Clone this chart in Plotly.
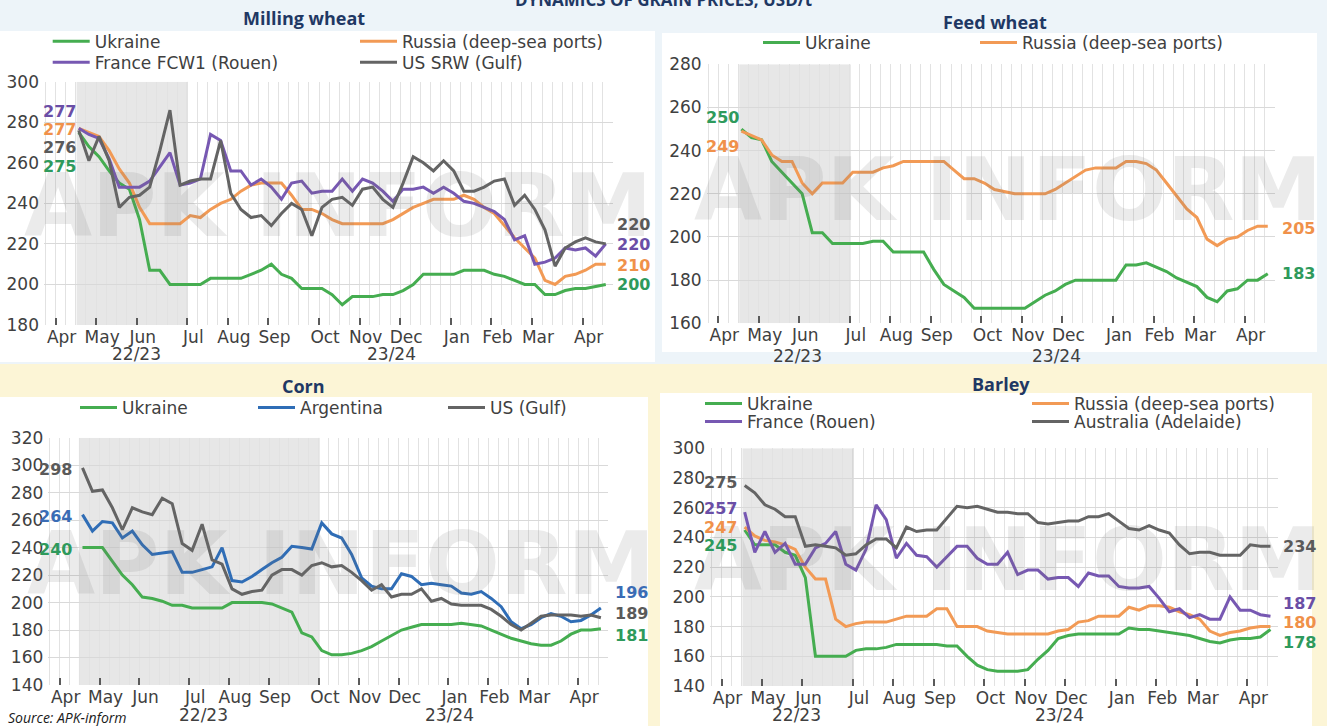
import pandas as pd
import plotly.graph_objects as go

W, H = 1327, 726

# weekly quotes (Fridays), 21 Apr 2023 .. 19 Apr 2024
weeks = pd.date_range("2023-04-21", periods=53, freq="7D")

month_ticks = ["2023-04-05", "2023-05-03", "2023-05-31", "2023-07-05", "2023-08-02",
               "2023-08-30", "2023-10-04", "2023-11-01", "2023-11-29", "2024-01-03",
               "2024-01-31", "2024-02-28", "2024-04-03"]
month_labels = ["Apr", "May", "Jun", "Jul", "Aug", "Sep", "Oct", "Nov", "Dec",
                "Jan", "Feb", "Mar", "Apr"]
seasons = ["22/23", "23/24"]

# --- Milling wheat, USD/t ---
milling_ukraine = [275, 268, 263, 256, 250, 247, 232, 207, 207, 200, 200, 200, 200, 203, 203,
                   203, 203, 205, 207, 210, 205, 203, 198, 198, 198, 195, 190, 194, 194, 194,
                   195, 195, 197, 200, 205, 205, 205, 205, 207, 207, 207, 205, 204, 202, 200,
                   200, 195, 195, 197, 198, 198, 199, 200]
milling_russia = [277, 275, 273, 266, 257, 250, 238, 230, 230, 230, 230, 234, 233, 237, 240,
                  242, 246, 249, 250, 250, 250, 244, 237, 237, 235, 232, 230, 230, 230, 230,
                  230, 232, 235, 238, 240, 242, 242, 242, 244, 242, 238, 235, 229, 223, 218,
                  213, 202, 200, 204, 205, 207, 210, 210]
milling_france = [277, 274, 272, 262, 248, 248, 248, 251, 258, 265, 249, 250, 252, 274, 271,
                  256, 256, 249, 252, 248, 242, 250, 251, 245, 246, 246, 252, 246, 252, 250,
                  246, 241, 247, 247, 248, 245, 248, 245, 241, 240, 238, 236, 232, 222, 224,
                  210, 211, 213, 218, 217, 218, 214, 220]
milling_us = [276, 261, 273, 261, 238, 243, 244, 248, 266, 286, 249, 251, 252, 252, 271,
              245, 237, 233, 234, 229, 235, 240, 237, 224, 238, 242, 243, 239, 247, 248,
              242, 238, 250, 263, 260, 256, 261, 256, 246, 246, 248, 251, 252, 239, 244,
              237, 227, 209, 218, 221, 223, 221, 220]

# --- Feed wheat ---
feed_ukraine = [250, 246, 245, 235, 230, 225, 220, 202, 202, 197, 197, 197, 197, 198, 198,
                193, 193, 193, 193, 185, 178, 175, 172, 167, 167, 167, 167, 167, 167, 170,
                173, 175, 178, 180, 180, 180, 180, 180, 187, 187, 188, 186, 184, 181, 179,
                177, 172, 170, 175, 176, 180, 180, 183]
feed_russia = [249, 247, 245, 238, 235, 235, 225, 220, 225, 225, 225, 230, 230, 230, 232,
               233, 235, 235, 235, 235, 235, 231, 227, 227, 225, 222, 221, 220, 220, 220,
               220, 222, 225, 228, 231, 232, 232, 232, 235, 235, 234, 231, 225, 219, 213,
               209, 199, 196, 199, 200, 203, 205, 205]

# --- Corn ---
corn_ukraine = [240, 240, 240, 230, 220, 213, 204, 203, 201, 198, 198, 196, 196, 196, 196,
                200, 200, 200, 200, 199, 196, 193, 178, 175, 165, 162, 162, 163, 165, 168,
                172, 176, 180, 182, 184, 184, 184, 184, 185, 184, 183, 180, 177, 174, 172,
                170, 169, 169, 172, 177, 180, 180, 181]
corn_argentina = [264, 252, 259, 258, 247, 252, 242, 235, 236, 237, 222, 222, 224, 226, 240,
                  216, 215, 219, 224, 229, 233, 241, 240, 239, 258, 250, 247, 235, 218, 212,
                  210, 210, 221, 219, 213, 214, 213, 212, 207, 206, 208, 203, 197, 186, 181,
                  184, 189, 192, 190, 186, 187, 191, 196]
corn_us = [298, 281, 282, 269, 253, 269, 266, 264, 276, 272, 243, 238, 257, 231, 228,
           210, 206, 208, 209, 220, 224, 224, 220, 227, 229, 226, 227, 222, 216, 209,
           213, 204, 206, 206, 210, 201, 203, 199, 198, 198, 198, 195, 190, 184, 180,
           185, 190, 191, 191, 191, 190, 191, 189]

# --- Barley ---
barley_ukraine = [245, 235, 235, 235, 230, 228, 213, 160, 160, 160, 160, 164, 165, 165, 166,
                  168, 168, 168, 168, 168, 167, 167, 160, 154, 151, 150, 150, 150, 151, 158,
                  164, 172, 174, 175, 175, 175, 175, 175, 179, 178, 178, 177, 176, 175, 174,
                  172, 170, 169, 171, 172, 172, 173, 178]
barley_russia = [247, 241, 238, 237, 235, 232, 220, 212, 212, 185, 180, 182, 183, 183, 183,
                 185, 187, 187, 187, 192, 192, 180, 180, 180, 177, 176, 175, 175, 175, 175,
                 175, 177, 178, 183, 184, 187, 187, 187, 193, 191, 194, 194, 193, 190, 188,
                 185, 177, 174, 176, 177, 179, 180, 180]
barley_france = [257, 230, 244, 230, 236, 222, 222, 233, 236, 244, 222, 218, 232, 262, 252,
                 226, 236, 228, 227, 220, 227, 234, 234, 226, 222, 222, 230, 215, 218, 218,
                 212, 213, 213, 207, 216, 214, 214, 207, 206, 206, 207, 199, 190, 192, 186,
                 188, 185, 185, 200, 191, 191, 188, 187]
barley_australia = [275, 270, 262, 259, 254, 254, 234, 235, 234, 233, 228, 229, 235, 239, 239,
                    233, 247, 244, 245, 245, 253, 261, 260, 261, 259, 257, 257, 256, 256, 250,
                    249, 250, 251, 251, 254, 254, 256, 251, 246, 245, 248, 245, 243, 235, 229,
                    230, 230, 228, 228, 228, 235, 234, 234]

# colours: (line, value label)
GREEN = ("#45ad50", "#2e9a5c")
ORANGE = ("#f29a55", "#f0914a")
PURPLE = ("#7758b2", "#6a4ea6")
GREY = ("#646464", "#5a5a5a")
BLUE = ("#2f6db6", "#3a6cb5")

TXT = "#404040"
NAVY = "#1f3864"
FONT = "DejaVu Sans"

panels = [
    dict(title="Milling wheat", title_xy=(304, 18), box=(44, 613, 81.7, 325), yrange=(180, 300),
         shade=("2023-04-19 12:00", "2023-07-05"),
         series=[("Ukraine", milling_ukraine, GREEN, (94.7, 41.7), -34, 0),
                 ("Russia (deep-sea ports)", milling_russia, ORANGE, (402, 41.7), -1, -1),
                 ("France FCW1 (Rouen)", milling_france, PURPLE, (94.7, 62.7), 17, -1),
                 ("US SRW (Gulf)", milling_us, GREY, (402, 62.7), -17, 19)],
         xshift=(-1, 9), season_x=("2023-05-31", "2023-11-23"), season_y=354,
         mark_xy=(338, 205)),
    dict(title="Feed wheat", title_xy=(995, 22), box=(706.7, 1275, 64.3, 323.3), yrange=(160, 280),
         shade=("2023-04-19 12:00", "2023-07-05"),
         series=[("Ukraine", feed_ukraine, GREEN, (805, 43), 12, 0),
                 ("Russia (deep-sea ports)", feed_russia, ORANGE, (1022, 43), -15, -2)],
         xshift=(0, 12), season_x=("2023-05-30", "2023-11-25"), season_y=356,
         mark_xy=(1008, 190)),
    dict(title="Corn", title_xy=(303, 386), box=(48.3, 608, 437.7, 685), yrange=(140, 320),
         shade=("2023-04-18 12:00", "2023-10-04"),
         series=[("Ukraine", corn_ukraine, GREEN, (122, 408), -2, -7),
                 ("Argentina", corn_argentina, BLUE, (300, 408), -2, 16),
                 ("US (Gulf)", corn_us, GREY, (490, 408), -2, 4)],
         xshift=(-8, 12), season_x=("2023-07-15", "2024-01-04"), season_y=715,
         mark_xy=(341, 563)),
    dict(title="Barley", title_xy=(1001, 384), box=(710, 1277.7, 448.3, 686), yrange=(140, 300),
         shade=("2023-04-19 12:00", "2023-07-05"),
         series=[("Ukraine", barley_ukraine, GREEN, (747, 404), -15, -13),
                 ("Russia (deep-sea ports)", barley_russia, ORANGE, (1074, 404), 0, 4),
                 ("France (Rouen)", barley_france, PURPLE, (747, 422), 4, 13),
                 ("Australia (Adelaide)", barley_australia, GREY, (1074, 422), 3, 0)],
         xshift=(-6, 11), season_x=("2023-05-27", "2023-11-25"), season_y=715,
         mark_xy=(1008, 559)),
]

x_range = ["2023-03-28", "2024-04-24"]
WEEK_MS = 7 * 24 * 3600 * 1000

fig = go.Figure()

# background: light blue top, cream bottom, white cards
shapes = [
    dict(type="rect", xref="paper", yref="paper", x0=0, x1=1, y0=0, y1=1 - 364 / H,
         fillcolor="#fcf5d6", line_width=0, layer="below"),
]
for (cx0, cx1, cy0, cy1) in [(0, 655, 31, 362), (662, 1317, 33, 352),
                             (0, 648, 397, 726), (660, 1312, 393, 726)]:
    shapes.append(dict(type="rect", xref="paper", yref="paper", x0=cx0 / W, x1=cx1 / W,
                       y0=1 - cy1 / H, y1=1 - cy0 / H, fillcolor="white", line_width=0,
                       layer="below"))

annotations = []
leg_n = 0
for i, p in enumerate(panels, start=1):
    sfx = "" if i == 1 else str(i)
    bx0, bx1, by0, by1 = p["box"]
    fig.update_layout({
        f"xaxis{sfx}": dict(
            domain=[bx0 / W, bx1 / W], anchor=f"y{sfx}", type="date", range=x_range,
            tickmode="array", tickvals=month_ticks, ticktext=month_labels,
            ticks="inside", ticklen=7, tickwidth=2, tickcolor="#5a5a5a",
            ticklabelshift=6,
            showgrid=False, zeroline=False, showline=False,
            tickfont=dict(family=FONT, size=17, color=TXT), fixedrange=True,
            minor=dict(tickmode="linear", tick0="2023-04-05", dtick=WEEK_MS,
                       showgrid=True, gridcolor="#e2e2e2", gridwidth=1, ticks="")),
        f"yaxis{sfx}": dict(
            domain=[1 - by1 / H, 1 - by0 / H], anchor=f"x{sfx}", range=list(p["yrange"]),
            tickmode="linear", tick0=0, dtick=20, showgrid=True, gridcolor="#d9d9d9",
            gridwidth=1, zeroline=False, showline=False, ticks="", ticklabelstandoff=4,
            tickfont=dict(family=FONT, size=17, color=TXT), fixedrange=True),
    })

    # shaded previous season + its border
    s0, s1 = p["shade"]
    shapes.append(dict(type="rect", xref=f"x{sfx}", yref=f"y{sfx}", x0=s0, x1=s1,
                       y0=p["yrange"][0], y1=p["yrange"][1], fillcolor="#e7e7e7",
                       line_width=0, layer="below"))
    shapes.append(dict(type="line", xref=f"x{sfx}", yref=f"y{sfx}", x0=s1, x1=s1,
                       y0=p["yrange"][0], y1=p["yrange"][1],
                       line=dict(color="#c6c6c6", width=1), layer="below"))

    # watermark
    mx, my = p["mark_xy"]
    annotations.append(dict(text="APK INFORM", xref="paper", yref="paper", x=mx / W,
                            y=1 - my / H, showarrow=False, xanchor="center", yanchor="middle",
                            font=dict(family=FONT, size=88, color="rgba(110,110,110,0.14)",
                                      weight="bold")))

    for name, vals, (lc, tc), (lx, ly), ys0, ys1 in p["series"]:
        leg_n += 1
        leg = "legend" if leg_n == 1 else f"legend{leg_n}"
        fig.add_trace(go.Scatter(x=weeks, y=vals, mode="lines", name=name,
                                 line=dict(color=lc, width=3), legend=leg,
                                 xaxis=f"x{sfx}", yaxis=f"y{sfx}",
                                 hovertemplate="%{x|%d %b %Y}: %{y}<extra>" + name + "</extra>"))
        fig.update_layout({leg: dict(x=(lx - 47) / W, y=1 - ly / H, xanchor="left",
                                     yanchor="middle", orientation="h", itemwidth=37,
                                     bgcolor="rgba(0,0,0,0)", borderwidth=0,
                                     font=dict(family=FONT, size=17, color=TXT),
                                     itemclick=False, itemdoubleclick=False)})
        # first / last value labels
        annotations.append(dict(text=str(vals[0]), xref=f"x{sfx}", yref=f"y{sfx}",
                                x=weeks[0], y=vals[0], showarrow=False, xanchor="right",
                                yanchor="middle", xshift=p["xshift"][0], yshift=ys0,
                                font=dict(family=FONT, size=16, color=tc, weight="bold")))
        annotations.append(dict(text=str(vals[-1]), xref=f"x{sfx}", yref=f"y{sfx}",
                                x=weeks[-1], y=vals[-1], showarrow=False, xanchor="left",
                                yanchor="middle", xshift=p["xshift"][1], yshift=ys1,
                                font=dict(family=FONT, size=16, color=tc, weight="bold")))

    # season labels under the months
    for sx, lab in zip(p["season_x"], seasons):
        annotations.append(dict(text=lab, xref=f"x{sfx}", yref="paper", x=sx,
                                y=1 - p["season_y"] / H, showarrow=False, xanchor="center",
                                yanchor="middle", font=dict(family=FONT, size=17, color=TXT)))

    tx, ty = p["title_xy"]
    annotations.append(dict(text=f"<b>{p['title']}</b>", xref="paper", yref="paper",
                            x=tx / W, y=1 - ty / H, showarrow=False, xanchor="center",
                            yanchor="middle", font=dict(family="Open Sans", size=18, color=NAVY)))

# main heading sits at the very top edge, as in the source
annotations.append(dict(text="<b>DYNAMICS OF GRAIN PRICES, USD/t</b>", xref="paper",
                        yref="paper", x=664 / W, y=1 + 1 / H, showarrow=False,
                        xanchor="center", yanchor="middle",
                        font=dict(family="Open Sans", size=17, color=NAVY)))
annotations.append(dict(text="<i>Source: APK-inform</i>", xref="paper", yref="paper",
                        x=6 / W, y=1 - 717 / H, showarrow=False, xanchor="left",
                        yanchor="middle", font=dict(family="Open Sans", size=14, color="#1a1a1a")))

fig.update_layout(
    width=W, height=H, margin=dict(l=0, r=0, t=0, b=0, autoexpand=False),
    paper_bgcolor="#edf4f9", plot_bgcolor="rgba(0,0,0,0)",
    font=dict(family=FONT, color=TXT), showlegend=True,
    shapes=shapes, annotations=annotations, hovermode="closest",
)

# the page's default body margin would shift the figure by 8px
fig.write_html("out.html", config={"displayModeBar": False},
               post_script="document.body.style.margin = '0';")
